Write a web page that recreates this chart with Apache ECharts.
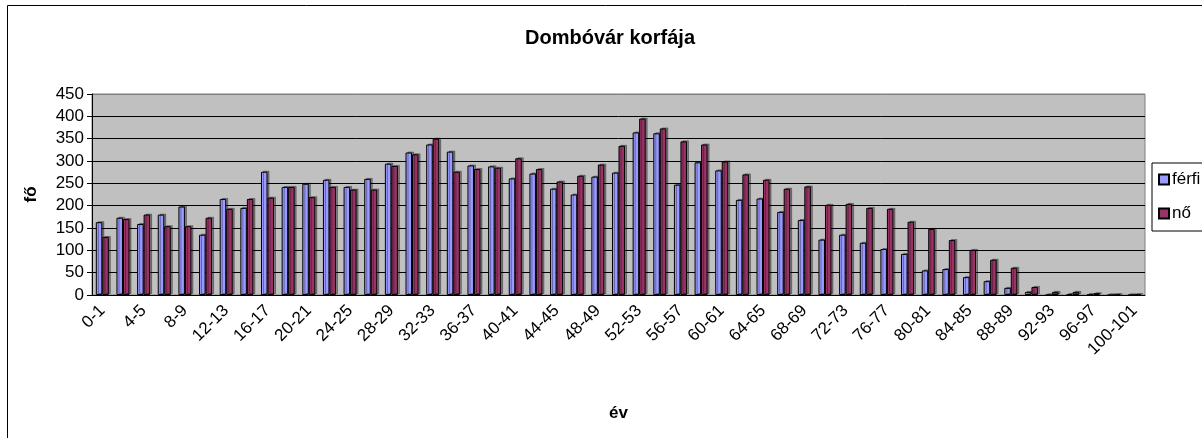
<!DOCTYPE html>
<html>
<head>
<meta charset="utf-8">
<title>Dombóvár korfája</title>
<script src="https://cdn.jsdelivr.net/npm/echarts@6/dist/echarts.min.js"></script>
<style>
    html, body {margin: 0; padding: 0; background: #fff;}
    #korfa {width: 1202px; height: 438px;}
</style>
</head>
<body>
<div id="korfa"></div>
<script>
// korcsoportok (2 évenként)
var korcsoportok = ['0-1', '2-3', '4-5', '6-7', '8-9', '10-11', '12-13', '14-15', '16-17', '18-19',
    '20-21', '22-23', '24-25', '26-27', '28-29', '30-31', '32-33', '34-35', '36-37', '38-39',
    '40-41', '42-43', '44-45', '46-47', '48-49', '50-51', '52-53', '54-55', '56-57', '58-59',
    '60-61', '62-63', '64-65', '66-67', '68-69', '70-71', '72-73', '74-75', '76-77', '78-79',
    '80-81', '82-83', '84-85', '86-87', '88-89', '90-91', '92-93', '94-95', '96-97', '98-99', '100-101'];

var ferfi = [163, 173, 159, 180, 198, 135, 215, 195, 276, 242,
    249, 258, 242, 260, 294, 319, 337, 321, 290, 288,
    261, 272, 238, 225, 265, 274, 364, 362, 247, 297,
    279, 213, 216, 186, 168, 124, 135, 117, 103, 92,
    55, 58, 40, 31, 16, 7, 0, 2, 1, 0, 0];

var no = [130, 170, 180, 154, 154, 173, 193, 215, 218, 242,
    219, 242, 236, 236, 289, 315, 350, 276, 282, 285,
    306, 282, 254, 267, 292, 334, 395, 373, 344, 337,
    299, 270, 258, 238, 243, 202, 204, 195, 193, 164,
    148, 123, 101, 79, 61, 18, 7, 7, 4, 1, 1];

var yTicks = [0, 450, 50]; // min, max, lépés

var betu = "'Liberation Sans', Arial, sans-serif";

var korfa = echarts.init(document.getElementById('korfa'));
korfa.setOption({
    animation: false,
    backgroundColor: '#fff',
    textStyle: {fontFamily: betu, color: '#000'},
    title: {
        text: 'Dombóvár korfája',
        left: 520,
        top: 23,
        textStyle: {fontSize: 20, fontWeight: 'bold', color: '#000', fontFamily: betu}
    },
    graphic: [{
        type: 'rect',
        shape: {x: 7.5, y: 5.5, width: 1300, height: 600},
        style: {fill: 'none', stroke: '#000', lineWidth: 1},
        silent: true
    }],
    legend: {
        orient: 'vertical',
        left: 1152,
        top: 163,
        padding: [8, 40, 9, 6],
        backgroundColor: '#fff',
        borderColor: '#000',
        borderWidth: 1,
        itemWidth: 10,
        itemHeight: 10,
        itemGap: 17,
        icon: 'rect',
        textStyle: {fontSize: 17, color: '#000', padding: [0, 0, 0, -2]},
        data: ['férfi', 'nő']
    },
    grid: {left: 92, right: 57, top: 94, bottom: 143, show: true,
        backgroundColor: '#c0c0c0', borderColor: '#808080', borderWidth: 1},
    xAxis: {
        type: 'category',
        data: korcsoportok,
        name: 'év',
        nameLocation: 'middle',
        nameGap: 110,
        nameTextStyle: {fontSize: 17, fontWeight: 'bold', color: '#000'},
        axisLine: {lineStyle: {color: '#000'}},
        axisTick: {interval: 0, length: 5, lineStyle: {color: '#000'}},
        axisLabel: {interval: 1, rotate: 45, fontSize: 17, color: '#000', margin: 13}
    },
    yAxis: {
        type: 'value',
        min: yTicks[0],
        max: yTicks[1],
        interval: yTicks[2],
        name: 'fő',
        nameLocation: 'middle',
        nameGap: 52,
        nameTextStyle: {fontSize: 17, fontWeight: 'bold', color: '#000'},
        axisLine: {show: true, lineStyle: {color: '#000'}},
        axisTick: {show: true, length: 5, lineStyle: {color: '#000'}},
        axisLabel: {fontSize: 17, color: '#000', margin: 8},
        splitLine: {lineStyle: {color: ['#000', '#000', '#000', '#000', '#000',
            '#000', '#000', '#000', '#000', '#808080']}}
    },
    series: [
        {
            name: 'férfi',
            type: 'bar',
            data: ferfi,
            barGap: '0%',
            barCategoryGap: '37%',
            itemStyle: {color: '#9999ff', borderColor: '#000', borderWidth: 1,
                shadowColor: 'rgba(0,0,0,0.35)', shadowOffsetX: 2, shadowOffsetY: -1}
        },
        {
            name: 'nő',
            type: 'bar',
            data: no,
            itemStyle: {color: '#993366', borderColor: '#000', borderWidth: 1,
                shadowColor: 'rgba(0,0,0,0.35)', shadowOffsetX: 2, shadowOffsetY: -1}
        }
    ]
});
</script>
</body>
</html>
